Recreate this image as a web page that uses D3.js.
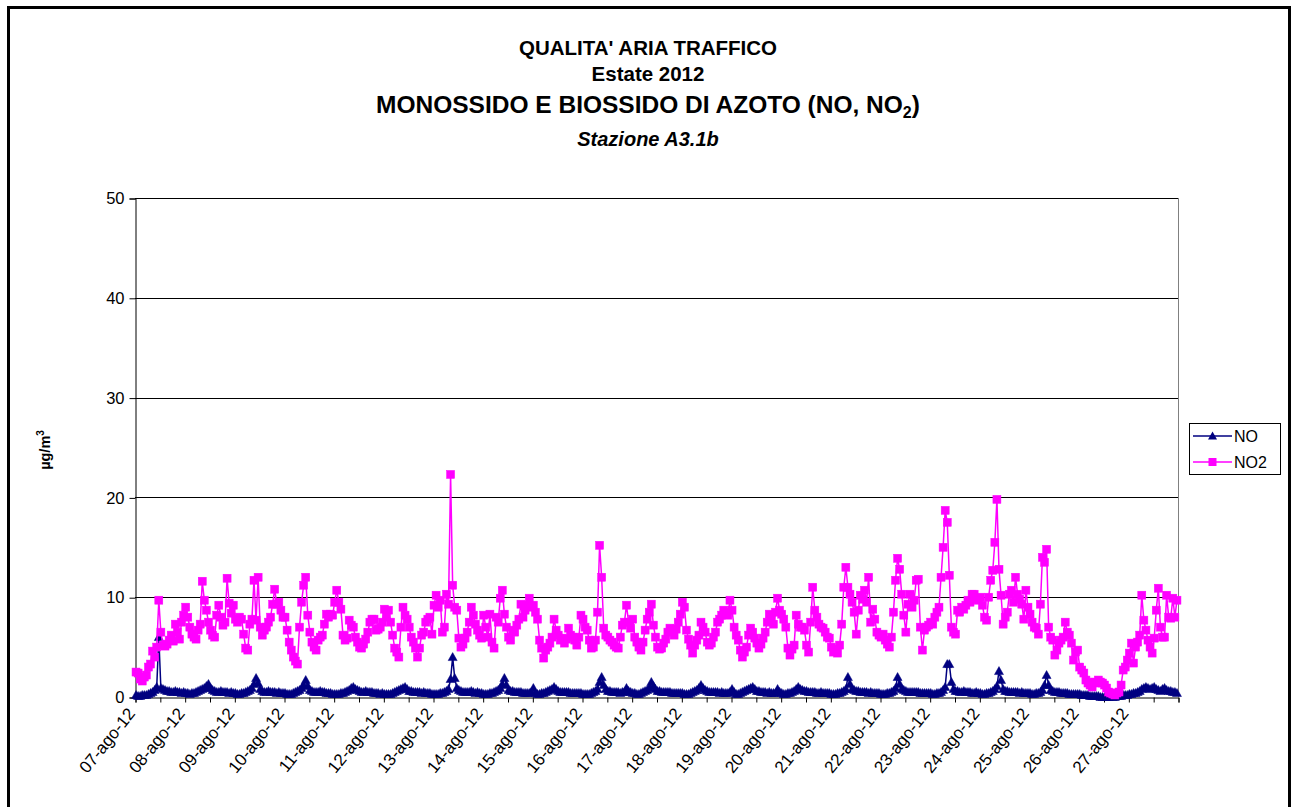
<!DOCTYPE html>
<html><head><meta charset="utf-8">
<script src="https://cdn.jsdelivr.net/npm/d3@7/dist/d3.min.js"></script>
<style>body{margin:0;background:#fff}svg{display:block}text{font-family:Arial,"Liberation Sans",sans-serif}</style>
</head><body>
<svg id="c" width="1296" height="807"></svg>
<script>
const dateLabels = ["07-ago-12","08-ago-12","09-ago-12","10-ago-12","11-ago-12","12-ago-12","13-ago-12","14-ago-12","15-ago-12","16-ago-12","17-ago-12","18-ago-12","19-ago-12","20-ago-12","21-ago-12","22-ago-12","23-ago-12","24-ago-12","25-ago-12","26-ago-12","27-ago-12"];
const yTicks = [0,10,20,30,40,50];
const seriesNames = ["NO","NO2"];
// hourly values, 24 per day, 07-ago-12 .. 27-ago-12
const no = [
0.2,0.1,0.1,0.2,0.2,0.2,0.3,0.4,0.5,0.7,1.0,6.0,0.9,0.8,0.7,0.6,0.6,0.5,0.5,0.6,0.5,0.5,0.4,0.5,
0.4,0.4,0.3,0.4,0.4,0.5,0.6,0.7,0.8,0.9,1.1,1.3,0.9,0.7,0.6,0.5,0.5,0.6,0.5,0.5,0.5,0.4,0.5,0.4,
0.4,0.3,0.3,0.4,0.4,0.5,0.6,0.7,0.9,1.3,1.9,1.4,0.8,0.6,0.5,0.5,0.6,0.5,0.5,0.5,0.4,0.5,0.4,0.4,
0.4,0.3,0.3,0.3,0.4,0.5,0.6,0.7,0.9,1.2,1.7,1.1,0.7,0.6,0.5,0.5,0.5,0.6,0.5,0.5,0.4,0.4,0.4,0.3,
0.3,0.3,0.3,0.4,0.4,0.5,0.6,0.7,0.9,1.0,0.8,0.7,0.6,0.5,0.5,0.6,0.5,0.5,0.5,0.4,0.4,0.4,0.3,0.4,
0.3,0.3,0.3,0.3,0.4,0.5,0.6,0.7,0.8,0.9,1.0,0.8,0.6,0.6,0.5,0.5,0.5,0.5,0.4,0.5,0.4,0.4,0.4,0.3,
0.3,0.3,0.3,0.4,0.4,0.5,0.6,0.8,1.8,4.0,1.9,0.9,0.7,0.6,0.5,0.5,0.5,0.5,0.6,0.5,0.4,0.5,0.4,0.4,
0.3,0.3,0.3,0.4,0.4,0.5,0.6,0.7,0.9,1.3,1.9,1.2,0.7,0.6,0.6,0.5,0.5,0.5,0.5,0.4,0.4,0.4,0.4,0.5,
0.9,0.4,0.3,0.3,0.4,0.4,0.5,0.6,0.7,0.8,1.0,0.8,0.6,0.5,0.5,0.5,0.5,0.5,0.4,0.4,0.4,0.4,0.4,0.4,
0.3,0.3,0.3,0.3,0.4,0.5,0.6,0.8,1.5,2.0,1.2,0.8,0.6,0.6,0.5,0.5,0.5,0.5,0.4,0.5,0.5,0.9,0.6,0.5,
0.4,0.4,0.3,0.3,0.4,0.5,0.6,0.7,0.9,1.5,1.1,0.8,0.6,0.6,0.5,0.5,0.5,0.5,0.5,0.4,0.4,0.4,0.4,0.4,
0.4,0.3,0.3,0.3,0.4,0.5,0.6,0.7,0.9,1.2,0.9,0.7,0.6,0.5,0.5,0.5,0.5,0.5,0.4,0.5,0.4,0.4,0.4,0.5,
0.8,0.5,0.3,0.3,0.4,0.5,0.6,0.7,0.8,0.9,1.0,0.8,0.6,0.6,0.5,0.5,0.5,0.4,0.5,0.4,0.4,0.4,0.8,0.5,
0.4,0.3,0.3,0.4,0.4,0.5,0.6,0.8,1.0,0.8,0.7,0.6,0.6,0.5,0.5,0.5,0.5,0.4,0.4,0.5,0.4,0.4,0.4,0.4,
0.3,0.3,0.3,0.4,0.4,0.5,0.6,0.8,2.0,1.3,0.8,0.7,0.6,0.6,0.5,0.5,0.5,0.5,0.4,0.5,0.4,0.4,0.4,0.4,
0.3,0.3,0.3,0.4,0.4,0.5,0.6,0.9,2.0,1.3,0.8,0.7,0.6,0.5,0.5,0.5,0.5,0.5,0.5,0.4,0.4,0.4,0.4,0.4,
0.4,0.3,0.3,0.4,0.4,0.5,0.7,1.0,3.3,3.3,1.5,0.8,0.6,0.6,0.5,0.5,0.6,0.5,0.5,0.5,0.4,0.4,0.5,0.4,
0.4,0.3,0.3,0.4,0.4,0.5,0.6,0.8,1.1,2.6,1.7,0.8,0.6,0.6,0.5,0.5,0.5,0.5,0.5,0.4,0.5,0.4,0.4,0.4,
0.4,0.3,0.3,0.4,0.4,0.5,0.7,1.2,2.2,1.2,0.7,0.6,0.5,0.5,0.5,0.4,0.4,0.4,0.4,0.3,0.3,0.3,0.3,0.3,
0.3,0.2,0.2,0.2,0.2,0.1,0.1,0.1,0.1,0.1,0.0,0.0,0.0,0.0,0.0,0.1,0.0,0.0,0.1,0.1,0.1,0.2,0.2,0.2,
0.3,0.3,0.4,0.4,0.5,0.6,0.8,0.9,1.0,0.9,0.8,0.9,1.0,0.8,0.7,0.6,0.8,0.9,0.7,0.6,0.6,0.5,0.5,0.4
];
const no2 = [
2.5,2.4,1.8,1.6,2.0,2.2,3.0,3.3,4.6,4.0,5.0,9.7,6.5,5.2,5.1,5.3,5.7,6.2,5.6,7.3,6.5,5.8,7.5,8.2,
9.0,8.0,7.0,6.3,6.0,5.8,6.7,7.3,11.6,9.7,8.7,7.5,6.7,6.2,6.0,8.2,9.2,8.0,7.2,7.5,11.9,9.4,8.4,9.2,
7.8,7.5,8.0,7.8,6.3,4.9,4.7,7.3,7.8,11.7,7.7,12.0,7.0,6.2,6.7,7.0,7.5,8.0,9.3,10.8,9.3,9.5,8.7,8.0,
8.0,6.7,5.5,4.7,4.0,3.6,3.3,7.0,9.5,11.2,12.0,8.2,6.5,5.5,5.0,4.7,5.7,6.0,6.2,7.3,8.3,8.0,8.3,8.2,
9.5,10.7,9.5,8.8,6.2,5.7,5.9,7.7,7.2,7.0,6.0,5.5,5.0,4.9,5.3,5.8,6.5,7.5,7.8,7.8,6.7,6.8,7.0,7.5,
8.8,8.0,8.7,7.5,6.2,4.9,4.5,4.0,7.0,9.0,8.2,7.8,7.0,6.0,5.5,4.9,4.0,4.9,6.2,6.5,7.5,7.8,8.0,6.3,
9.2,10.2,9.0,9.7,6.5,7.0,10.3,9.3,22.3,11.2,9.0,8.7,5.9,5.0,5.3,5.9,6.5,7.5,9.0,8.2,7.3,6.7,6.2,5.9,
8.2,7.0,6.0,8.3,5.5,4.9,8.0,7.5,9.9,10.7,8.3,7.0,6.0,5.7,6.7,6.5,7.2,7.8,9.3,8.0,8.7,9.2,9.9,9.0,
9.2,8.5,7.8,5.7,4.9,3.9,4.7,5.0,5.4,6.0,7.8,6.7,6.2,5.7,5.9,5.4,5.8,6.9,6.2,6.0,5.7,5.2,6.0,8.2,
7.8,7.0,6.7,5.7,4.9,5.0,5.7,8.5,15.2,12.0,6.9,6.2,6.0,5.7,5.5,5.2,5.0,4.9,6.0,7.2,7.5,9.2,7.5,6.9,
7.8,6.0,5.5,5.0,4.7,5.5,6.7,7.8,8.5,9.3,7.2,6.0,5.0,4.8,4.9,5.4,5.8,6.5,6.9,6.6,6.2,6.8,7.5,8.3,
9.5,9.0,6.7,5.8,5.2,4.4,5.2,5.7,6.2,7.5,7.0,6.5,5.5,5.2,5.4,6.0,6.5,7.5,7.8,8.2,8.7,8.5,8.2,9.7,
8.7,7.0,6.2,5.7,4.7,4.0,4.5,5.0,6.2,6.9,6.5,5.9,5.4,4.9,5.3,5.9,6.5,7.5,8.3,7.8,7.3,8.5,9.9,8.7,
8.3,7.8,7.0,4.9,4.2,4.8,5.2,8.2,7.3,7.0,7.0,6.7,5.2,4.5,7.5,11.0,8.7,8.0,7.3,7.0,6.9,6.5,6.0,5.9,
5.0,4.5,4.8,4.4,5.2,7.3,11.0,13.0,11.0,10.3,9.5,8.5,6.3,8.7,10.2,9.8,10.7,9.5,12.0,7.5,8.8,7.8,6.5,6.2,
6.0,6.3,5.7,5.3,5.0,6.0,8.5,11.7,13.9,12.8,10.3,8.2,6.5,9.3,10.3,9.0,9.7,11.7,11.8,7.0,4.7,6.7,7.0,7.2,
7.5,7.3,8.0,8.5,9.0,12.0,15.0,18.7,17.5,12.2,7.0,6.5,6.3,8.7,8.5,9.0,8.8,9.2,9.7,9.5,10.3,10.3,9.8,9.7,
10.0,9.2,8.0,7.7,10.0,11.7,12.7,15.5,19.8,12.8,10.2,7.3,8.0,8.5,10.3,10.7,9.5,12.0,10.3,9.8,9.3,7.8,10.7,9.0,
8.3,7.5,7.0,6.9,6.3,9.3,14.0,13.5,14.8,7.0,6.0,5.7,4.2,4.7,5.4,5.7,6.0,7.5,6.5,6.2,5.4,3.7,4.5,4.7,
3.0,2.7,2.4,1.7,1.4,1.2,1.0,1.5,1.4,1.7,1.5,1.4,1.2,0.9,0.5,0.4,0.3,0.2,0.4,0.5,1.2,2.7,3.0,3.7,
4.4,5.4,3.4,5.0,5.5,6.2,10.2,7.7,6.7,5.7,5.0,4.4,5.9,8.7,10.9,7.0,6.0,6.0,10.2,8.0,7.9,9.9,8.0,9.7
];
const colors = {NO:"#000080", NO2:"#FF00FF"};

const svg = d3.select("#c");
const L = 135, R = 1178, T = 198, B = 697;
const x = d3.scaleLinear().domain([0, no2.length]).range([L, R]);
const y = d3.scaleLinear().domain([0, 50]).range([B, T]);

// outer frame
svg.append("rect").attr("x",8.5).attr("y",7.5).attr("width",1281).attr("height",812)
  .attr("fill","none").attr("stroke","#000").attr("stroke-width",3);

// titles
const tg = svg.append("g").attr("text-anchor","middle").attr("font-weight","bold").attr("fill","#000");
tg.append("text").attr("x",648).attr("y",55).attr("font-size",20.5).text("QUALITA' ARIA TRAFFICO");
tg.append("text").attr("x",648).attr("y",81).attr("font-size",20.5).text("Estate 2012");
const t3 = tg.append("text").attr("x",648).attr("y",113).attr("font-size",24.5);
t3.append("tspan").text("MONOSSIDO E BIOSSIDO DI AZOTO (NO, NO");
t3.append("tspan").attr("font-size",16).attr("dy",5).text("2");
t3.append("tspan").attr("dy",-5).text(")");
tg.append("text").attr("x",648).attr("y",146).attr("font-size",20).attr("font-style","italic").text("Stazione A3.1b");

// gridlines
svg.append("g").selectAll("line").data(yTicks.filter(d=>d>0)).join("line")
  .attr("x1",L).attr("x2",R).attr("y1",d=>Math.round(y(d))+0.5).attr("y2",d=>Math.round(y(d))+0.5)
  .attr("stroke","#000").attr("stroke-width",1);
// right border
svg.append("line").attr("x1",R+0.5).attr("x2",R+0.5).attr("y1",T).attr("y2",B)
  .attr("stroke","#808080").attr("stroke-width",1);

// y axis
const ya = svg.append("g").attr("transform",`translate(${L+0.5},0.5)`)
  .call(d3.axisLeft(y).tickValues(yTicks).tickSize(6).tickPadding(5));
ya.select(".domain").attr("stroke","#000");
ya.selectAll("text").attr("font-size",16.5).attr("font-family","Arial, 'Liberation Sans', sans-serif").attr("fill","#000");

// x axis
const xa = svg.append("g").attr("transform",`translate(0.5,${B+0.5})`)
  .call(d3.axisBottom(x).tickValues(d3.range(0, no2.length+1, 12)).tickSize(5).tickFormat(""));
xa.select(".domain").attr("stroke","#000");
svg.append("g").selectAll("text").data(dateLabels).join("text")
  .attr("transform",(d,i)=>`translate(${x(i*24+0.5)},${B+17}) rotate(-51)`)
  .attr("text-anchor","end").attr("font-size",17).attr("fill","#000").text(d=>d);

// y title
const yt = svg.append("text").attr("transform","translate(50,450) rotate(-90)")
  .attr("text-anchor","middle").attr("font-size",14.5).attr("font-weight","bold");
yt.append("tspan").text("µg/m");
yt.append("tspan").attr("font-size",10).attr("dy",-6).text("3");

// series
const line = d3.line().x((d,i)=>x(i+0.5)).y(d=>y(d));
function drawSeries(data, col, shape){
  const g = svg.append("g");
  g.append("path").datum(data).attr("d",line).attr("fill","none").attr("stroke",col).attr("stroke-width",1.5);
  if(shape==="square"){
    g.selectAll("rect").data(data).join("rect")
      .attr("x",(d,i)=>x(i+0.5)-4).attr("y",d=>y(d)-4).attr("width",8).attr("height",8)
      .attr("fill",col).attr("stroke",col).attr("stroke-width",0.5);
  } else {
    g.selectAll("path.m").data(data).join("path").attr("class","m")
      .attr("d",(d,i)=>{const cx=x(i+0.5), cy=y(d); return `M${cx},${cy-4.5}L${cx+4.5},${cy+3.5}L${cx-4.5},${cy+3.5}Z`;})
      .attr("fill",col).attr("stroke",col).attr("stroke-width",0.5);
  }
}
drawSeries(no, colors.NO, "tri");
drawSeries(no2, colors.NO2, "square");

// legend
const lg = svg.append("g");
lg.append("rect").attr("x",1189.5).attr("y",423.5).attr("width",91).attr("height",51)
  .attr("fill","#fff").attr("stroke","#000");
[["NO","tri",436],["NO2","square",462]].forEach(([name,shape,ly])=>{
  const col = colors[name];
  lg.append("line").attr("x1",1193).attr("x2",1232).attr("y1",ly).attr("y2",ly).attr("stroke",col).attr("stroke-width",1.5);
  if(shape==="square") lg.append("rect").attr("x",1208.5).attr("y",ly-4).attr("width",8).attr("height",8).attr("fill",col);
  else lg.append("path").attr("d",`M1212.5,${ly-4.5}L1217,${ly+3.5}L1208,${ly+3.5}Z`).attr("fill",col);
  lg.append("text").attr("x",1234).attr("y",ly+5.5).attr("font-size",16).attr("fill","#000").text(name);
});
</script>
</body></html>
